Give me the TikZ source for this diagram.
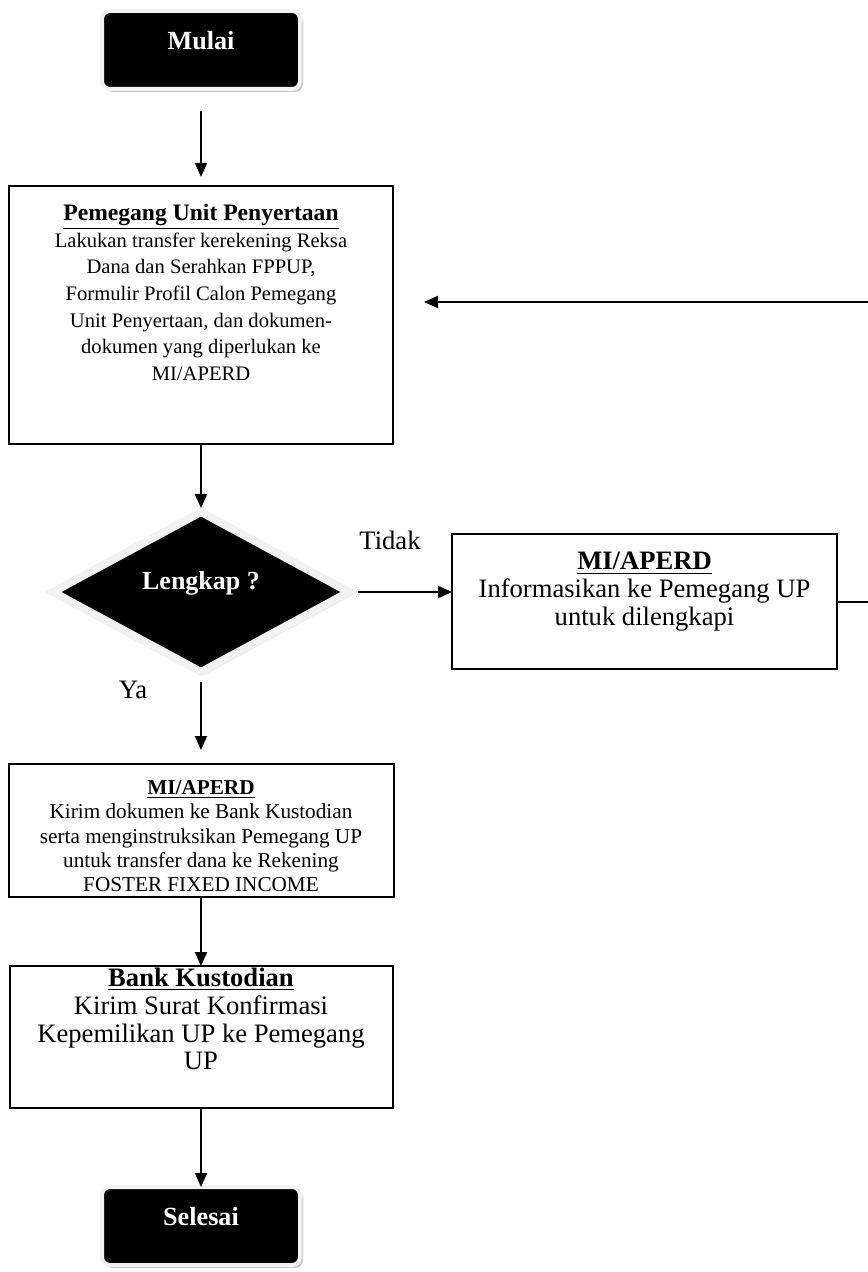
\documentclass[tikz,border=0pt]{standalone}
\usepackage{fontspec}
\setmainfont{Liberation Serif}
\usetikzlibrary{positioning,shapes.geometric,arrows.meta,shadows}
\newcommand{\FlowPx}{0.5}
\newcommand{\StepText}[4]{\parbox[c][#2][t]{#1}{\centering\vspace*{#3}#4\par}}

\tikzset{
	termbox/.style={rectangle, rounded corners=4pt, fill=black, draw=gray!10, line width=2pt,
		outer sep=0pt, text=white, font=\fontsize{13.1}{15}\selectfont\bfseries, text depth=10pt,
		minimum width=99pt, minimum height=39pt,
		drop shadow={shadow xshift=1.5pt, shadow yshift=-1.5pt, fill=gray!45, opacity=1}},
	askbox/.style={diamond, fill=black, draw=gray!10, line width=4pt, inner sep=0pt,
		outer sep=0pt, text=white, font=\fontsize{13}{15}\selectfont\bfseries, text depth=12pt,
		minimum width=148pt, minimum height=80pt,
		drop shadow={shadow xshift=1.5pt, shadow yshift=-1.5pt, fill=gray!45, opacity=1}},
	stepbox/.style={rectangle, draw, line width=1pt, inner sep=0pt, outer sep=0pt, align=center},
	flow/.style={line width=1pt, -{Triangle[width=6pt,length=7pt]}},
	lbl/.style={font=\fontsize{13.3}{15}\selectfont, inner sep=0pt}
}

\begin{document}
\begin{tikzpicture}[x=\FlowPx pt, y=-\FlowPx pt]
	\useasboundingbox (0,0) rectangle (867,1272);
	% main column
	\node[termbox] (mulai) at (201,50) {Mulai};
	\node[stepbox, font=\fontsize{10.3}{13.35}\selectfont, below=\FlowPx*97 pt of mulai] (pup)
		{\StepText{192pt}{129pt}{9pt}{{\fontsize{11.8}{13.35}\selectfont\underline{\textbf{Pemegang Unit Penyertaan}}}\\
			Lakukan transfer kerekening Reksa\\
			Dana dan Serahkan FPPUP,\\
			Formulir Profil Calon Pemegang\\
			Unit Penyertaan, dan dokumen-\\
			dokumen yang diperlukan ke\\
			MI/APERD}};
	\node[askbox, below=\FlowPx*68 pt of pup] (lengkap) {Lengkap ?};
	\node[stepbox, font=\fontsize{10.6}{12.15}\selectfont, below=\FlowPx*92 pt of lengkap] (kirim)
		{\StepText{192.5pt}{66.5pt}{8.3pt}{\underline{\textbf{MI/APERD}}\\
			Kirim dokumen ke Bank Kustodian\\
			serta menginstruksikan Pemegang UP\\
			untuk transfer dana ke Rekening\\
			FOSTER FIXED INCOME}};
	\node[stepbox, font=\fontsize{13.3}{13.9}\selectfont, below=\FlowPx*69 pt of kirim] (bank)
		{\StepText{191.5pt}{71pt}{1pt}{\underline{\textbf{Bank Kustodian}}\\
			Kirim Surat Konfirmasi\\
			Kepemilikan UP ke Pemegang\\
			UP}};
	\node[termbox, below=\FlowPx*79 pt of bank] (selesai) {Selesai};
	% side branch
	\node[stepbox, font=\fontsize{13.3}{13.9}\selectfont] (info) at (644.5,601.5)
		{\StepText{192.5pt}{67.5pt}{9.2pt}{\underline{\textbf{MI/APERD}}\\
			Informasikan ke Pemegang UP\\
			untuk dilengkapi}};
	\coordinate (back) at (424,302);
	\node[lbl] (tidak) at (390,540) {Tidak};
	\node[lbl] (ya) at (133,690) {Ya};

	\draw[flow, shorten <=\FlowPx*22 pt, shorten >=\FlowPx*9 pt] (mulai) -- (pup);
	\draw[flow, shorten >=2pt] (pup) -- (lengkap);
	\draw[flow, shorten <=\FlowPx*10 pt, shorten >=\FlowPx*14 pt] (lengkap) -- (kirim);
	\draw[flow] (kirim) -- (bank);
	\draw[flow] (bank) -- (selesai);
	\draw[flow, shorten <=4.3pt] (lengkap.east) -- (lengkap.east -| info.west);
	\draw[flow] (info.east) -- ++(33,0) |- (back);
\end{tikzpicture}
\end{document}
